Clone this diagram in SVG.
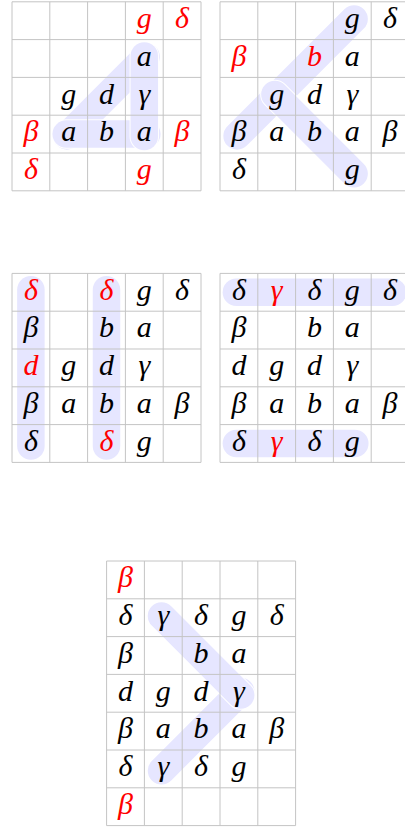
<svg xmlns="http://www.w3.org/2000/svg" width="405" height="828" viewBox="0 0 405 828">
<style>
.o{stroke:#ffffff;stroke-width:29.5;stroke-linecap:round;fill:none}
.h{stroke:#e6e6ff;stroke-width:27.5;stroke-linecap:round;fill:none}
.grid{stroke:#c4c4c4;stroke-width:1;fill:none}
.t{font-family:'Liberation Serif',serif;font-style:italic;font-size:30px;text-anchor:middle;fill:#000000}
.t .r{fill:#ff0000}
</style>
<defs>
<path id="g55" d="M0,0H189M0,37.8H189M0,75.6H189M0,113.4H189M0,151.2H189M0,189H189M0,0V189M37.8,0V189M75.6,0V189M113.4,0V189M151.2,0V189M189,0V189"/>
<path id="g57" d="M0,0H189M0,37.8H189M0,75.6H189M0,113.4H189M0,151.2H189M0,189H189M0,226.8H189M0,264.6H189M0,0V264.6M37.8,0V264.6M75.6,0V264.6M113.4,0V264.6M151.2,0V264.6M189,0V264.6"/>
</defs>
<rect width="405" height="828" fill="#ffffff"/>

<g id="grid1" transform="translate(12,1.8)">
<g id="hl1">
<line class="o" x1="54.9" y1="134.1" x2="134.1" y2="54.9"/><line class="h" x1="54.9" y1="134.1" x2="134.1" y2="54.9"/>
<line class="o" x1="54.2" y1="132.3" x2="134.8" y2="132.3"/><line class="h" x1="54.2" y1="132.3" x2="134.8" y2="132.3"/>
<line class="o" x1="132.3" y1="54.2" x2="132.3" y2="134.8"/><line class="h" x1="132.3" y1="54.2" x2="132.3" y2="134.8"/>
</g>
<use href="#g55" class="grid"/>
<g class="t" transform="translate(0,0.8)">
<text class="r" x="132.3" y="25.4">g</text><text class="r" x="170.1" y="25.4">δ</text>
<text x="132.3" y="63.2">a</text>
<text x="56.7" y="101">g</text><text x="94.5" y="101">d</text><text x="132.3" y="101">γ</text>
<text class="r" x="18.9" y="138.8">β</text><text x="56.7" y="138.8">a</text><text x="94.5" y="138.8">b</text><text x="132.3" y="138.8">a</text><text class="r" x="170.1" y="138.8">β</text>
<text class="r" x="18.9" y="176.6">δ</text><text class="r" x="132.3" y="176.6">g</text>
</g>
</g>

<g id="grid2" transform="translate(220,1.8)">
<g id="hl2">
<line class="o" x1="17.1" y1="134.1" x2="134.1" y2="17.1"/><line class="h" x1="17.1" y1="134.1" x2="134.1" y2="17.1"/>
<line class="o" x1="54.9" y1="92.7" x2="134.1" y2="171.9"/><line class="h" x1="54.9" y1="92.7" x2="134.1" y2="171.9"/>
</g>
<use href="#g55" class="grid"/>
<g class="t" transform="translate(0,0.8)">
<text x="132.3" y="25.4">g</text><text x="170.1" y="25.4">δ</text>
<text class="r" x="18.9" y="63.2">β</text><text class="r" x="94.5" y="63.2">b</text><text x="132.3" y="63.2">a</text>
<text x="56.7" y="101">g</text><text x="94.5" y="101">d</text><text x="132.3" y="101">γ</text>
<text x="18.9" y="138.8">β</text><text x="56.7" y="138.8">a</text><text x="94.5" y="138.8">b</text><text x="132.3" y="138.8">a</text><text x="170.1" y="138.8">β</text>
<text x="18.9" y="176.6">δ</text><text x="132.3" y="176.6">g</text>
</g>
</g>

<g id="grid3" transform="translate(12,273.4)">
<g id="hl3">
<line class="o" x1="18.9" y1="16.4" x2="18.9" y2="172.6"/><line class="h" x1="18.9" y1="16.4" x2="18.9" y2="172.6"/>
<line class="o" x1="94.5" y1="16.4" x2="94.5" y2="172.6"/><line class="h" x1="94.5" y1="16.4" x2="94.5" y2="172.6"/>
</g>
<use href="#g55" class="grid"/>
<g class="t" transform="translate(0,0.8)">
<text class="r" x="18.9" y="25.4">δ</text><text class="r" x="94.5" y="25.4">δ</text><text x="132.3" y="25.4">g</text><text x="170.1" y="25.4">δ</text>
<text x="18.9" y="63.2">β</text><text x="94.5" y="63.2">b</text><text x="132.3" y="63.2">a</text>
<text class="r" x="18.9" y="101">d</text><text x="56.7" y="101">g</text><text x="94.5" y="101">d</text><text x="132.3" y="101">γ</text>
<text x="18.9" y="138.8">β</text><text x="56.7" y="138.8">a</text><text x="94.5" y="138.8">b</text><text x="132.3" y="138.8">a</text><text x="170.1" y="138.8">β</text>
<text x="18.9" y="176.6">δ</text><text class="r" x="94.5" y="176.6">δ</text><text x="132.3" y="176.6">g</text>
</g>
</g>

<g id="grid4" transform="translate(220,273.4)">
<g id="hl4">
<line class="o" x1="16.4" y1="18.9" x2="172.6" y2="18.9"/><line class="h" x1="16.4" y1="18.9" x2="172.6" y2="18.9"/>
<line class="o" x1="16.4" y1="170.1" x2="134.8" y2="170.1"/><line class="h" x1="16.4" y1="170.1" x2="134.8" y2="170.1"/>
</g>
<use href="#g55" class="grid"/>
<g class="t" transform="translate(0,0.8)">
<text x="18.9" y="25.4">δ</text><text class="r" x="56.7" y="25.4">γ</text><text x="94.5" y="25.4">δ</text><text x="132.3" y="25.4">g</text><text x="170.1" y="25.4">δ</text>
<text x="18.9" y="63.2">β</text><text x="94.5" y="63.2">b</text><text x="132.3" y="63.2">a</text>
<text x="18.9" y="101">d</text><text x="56.7" y="101">g</text><text x="94.5" y="101">d</text><text x="132.3" y="101">γ</text>
<text x="18.9" y="138.8">β</text><text x="56.7" y="138.8">a</text><text x="94.5" y="138.8">b</text><text x="132.3" y="138.8">a</text><text x="170.1" y="138.8">β</text>
<text x="18.9" y="176.6">δ</text><text class="r" x="56.7" y="176.6">γ</text><text x="94.5" y="176.6">δ</text><text x="132.3" y="176.6">g</text>
</g>
</g>

<g id="grid5" transform="translate(106.6,561)">
<g id="hl5">
<line class="o" x1="54.9" y1="209.7" x2="134.1" y2="130.5"/><line class="h" x1="54.9" y1="209.7" x2="134.1" y2="130.5"/>
<line class="o" x1="54.9" y1="54.9" x2="134.1" y2="134.1"/><line class="h" x1="54.9" y1="54.9" x2="134.1" y2="134.1"/>
</g>
<use href="#g57" class="grid"/>
<g class="t" transform="translate(0,0.8)">
<text class="r" x="18.9" y="25.4">β</text>
<text x="18.9" y="63.2">δ</text><text x="56.7" y="63.2">γ</text><text x="94.5" y="63.2">δ</text><text x="132.3" y="63.2">g</text><text x="170.1" y="63.2">δ</text>
<text x="18.9" y="101">β</text><text x="94.5" y="101">b</text><text x="132.3" y="101">a</text>
<text x="18.9" y="138.8">d</text><text x="56.7" y="138.8">g</text><text x="94.5" y="138.8">d</text><text x="132.3" y="138.8">γ</text>
<text x="18.9" y="176.6">β</text><text x="56.7" y="176.6">a</text><text x="94.5" y="176.6">b</text><text x="132.3" y="176.6">a</text><text x="170.1" y="176.6">β</text>
<text x="18.9" y="214.4">δ</text><text x="56.7" y="214.4">γ</text><text x="94.5" y="214.4">δ</text><text x="132.3" y="214.4">g</text>
<text class="r" x="18.9" y="252.2">β</text>
</g>
</g>
</svg>
